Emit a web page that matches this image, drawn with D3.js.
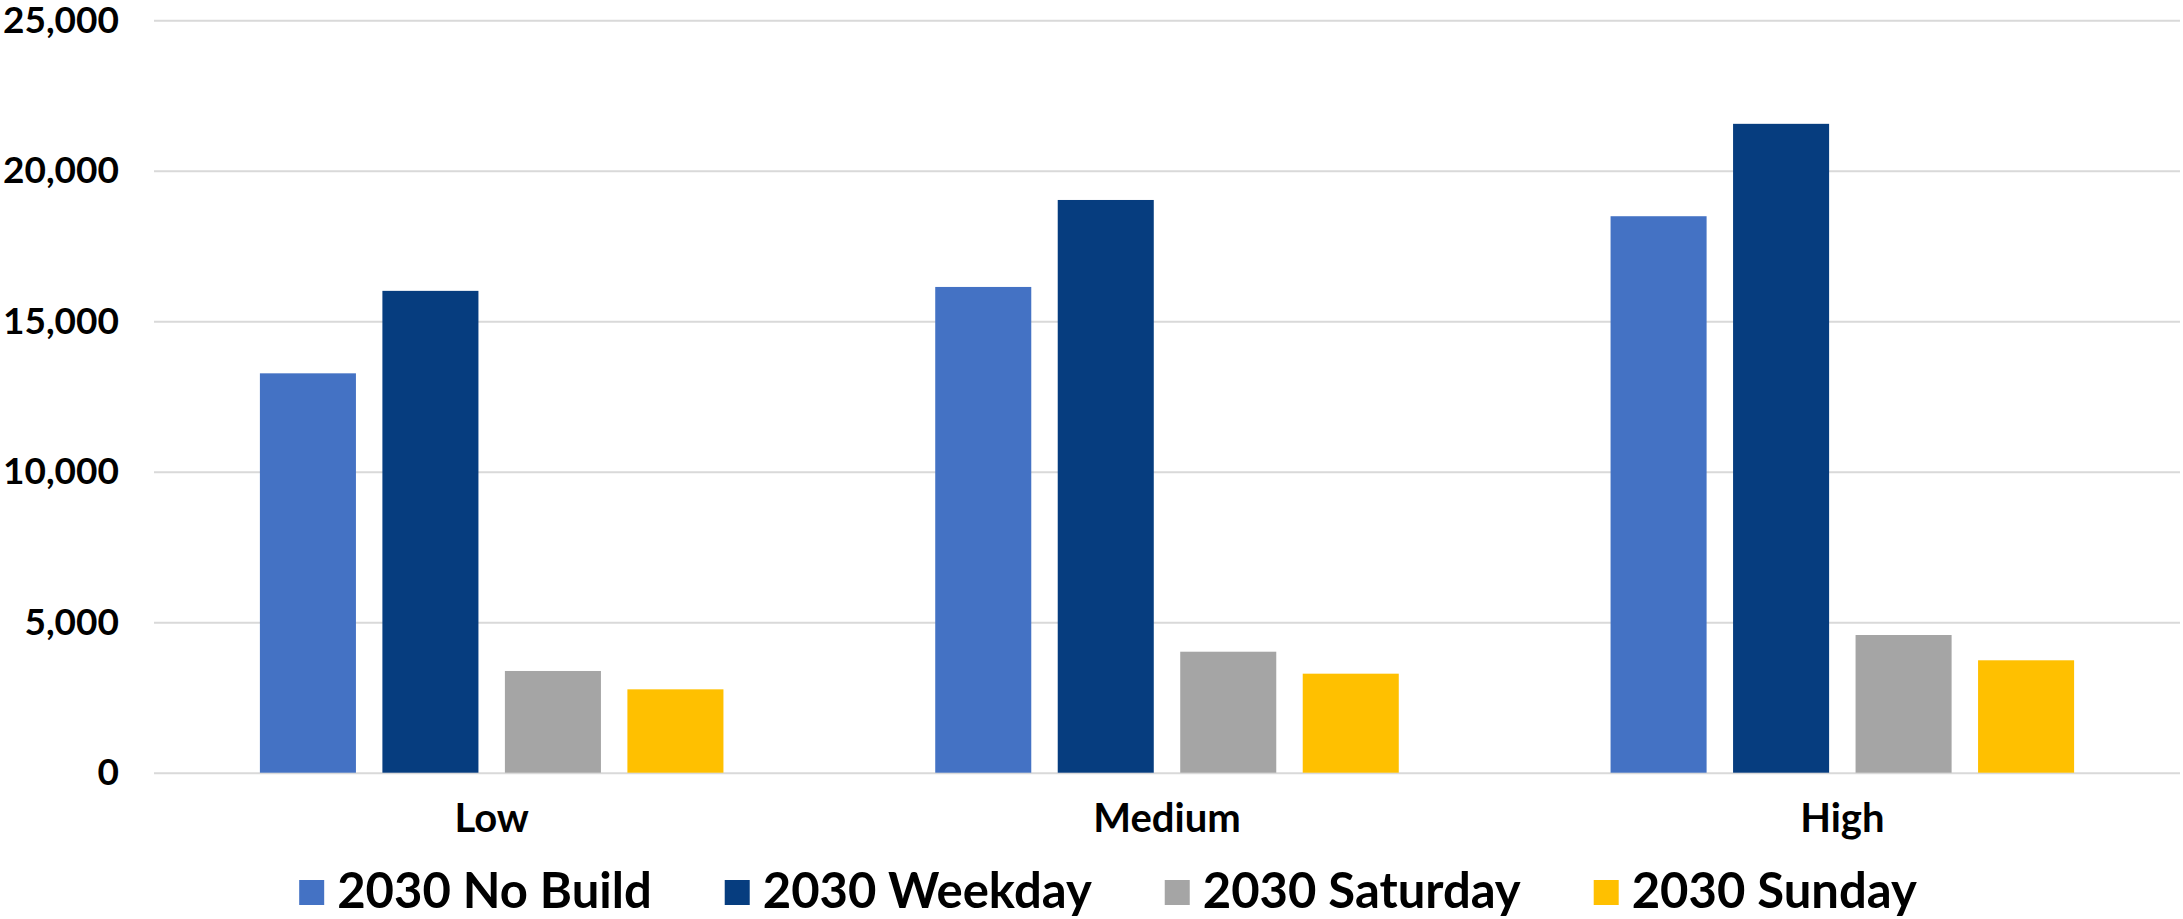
<!DOCTYPE html>
<html>
<head>
<meta charset="utf-8">
<style>
    body { margin: 0; background: #fff; }
    svg { display: block; }
    text { font-family: Lato, "Open Sans", sans-serif; font-weight: 700; fill: #000; }
    .y .tick text { font-size: 37px; }
    .x .tick text { font-size: 40px; }
    .legend text { font-size: 49px; }
</style>
</head>
<body>
<svg width="2183" height="919"></svg>
<script src="https://d3js.org/d3.v7.min.js"></script>
<script>
    // chart data
    let categories = ["Low", "Medium", "High"]
    let seriesNames = ["2030 No Build", "2030 Weekday", "2030 Saturday", "2030 Sunday"]
    let noBuild = [13270, 16140, 18490]
    let weekday = [16010, 19030, 21560]
    let saturday = [3380, 4020, 4575]
    let sunday = [2770, 3290, 3735]
    let yTicks = [0, 5000, 10000, 15000, 20000, 25000]

    let seriesColors = ["#4472C4", "#063D7F", "#A5A5A5", "#FFC000"]

    let seriesValues = [noBuild, weekday, saturday, sunday]
    let data = categories.map((c, i) => ({
        category: c,
        values: seriesNames.map((s, j) => ({ key: s, value: seriesValues[j][i] }))
    }))

    let svg = d3.select("svg")
    let plot = { left: 154, right: 2180, top: 20.3, bottom: 772.7 }

    let x = d3.scaleBand()
        .domain(categories)
        .range([plot.left, plot.right])

    let xInner = d3.scaleBand()
        .domain(seriesNames)
        .range([-245, 245])
        .paddingInner(0.216)
        .paddingOuter(0.108)

    let y = d3.scaleLinear()
        .domain([0, 25000])
        .range([plot.bottom, plot.top])

    let color = d3.scaleOrdinal()
        .domain(seriesNames)
        .range(seriesColors)

    // y axis with gridlines
    svg.append("g")
        .attr("class", "y axis")
        .attr("transform", `translate(${plot.left},0)`)
        .call(d3.axisLeft(y)
            .tickValues(yTicks)
            .tickFormat(d3.format(","))
            .tickSize(-(plot.right - plot.left))
            .tickPadding(35))
        .call(g => g.select(".domain").remove())
        .call(g => g.selectAll(".tick line")
            .attr("stroke", "#D9D9D9")
            .attr("stroke-width", 2))

    // bars
    svg.append("g")
        .selectAll("g")
        .data(data)
        .join("g")
        .attr("transform", d => `translate(${x(d.category) + x.bandwidth() / 2},0)`)
        .selectAll("rect")
        .data(d => d.values)
        .join("rect")
        .attr("x", d => xInner(d.key))
        .attr("width", xInner.bandwidth())
        .attr("y", d => y(d.value))
        .attr("height", d => y(0) - y(d.value))
        .attr("fill", d => color(d.key))

    // x axis labels
    svg.append("g")
        .attr("class", "x axis")
        .attr("transform", `translate(0,${plot.bottom})`)
        .call(d3.axisBottom(x).tickSize(0).tickPadding(0))
        .call(g => g.select(".domain").remove())
        .call(g => g.selectAll(".tick text").attr("dy", null).attr("y", 59))

    // legend
    let legend = svg.append("g").attr("class", "legend")
    let swatch = 25
    let items = legend.selectAll("g")
        .data(seriesNames)
        .join("g")

    items.append("rect")
        .attr("width", swatch)
        .attr("height", swatch)
        .attr("y", -27.7)
        .attr("fill", d => color(d))

    items.append("text")
        .attr("x", swatch + 13)
        .text(d => d)

    let offset = 0
    items.each(function () {
        let w = d3.select(this).select("text").node().getComputedTextLength()
        d3.select(this).attr("data-x", offset)
        offset += swatch + 13 + w + 73
    })
    let total = offset - 73
    let start = 1108 - total / 2
    items.attr("transform", function () {
        return `translate(${start + (+d3.select(this).attr("data-x"))},907.7)`
    })
</script>
</body>
</html>
